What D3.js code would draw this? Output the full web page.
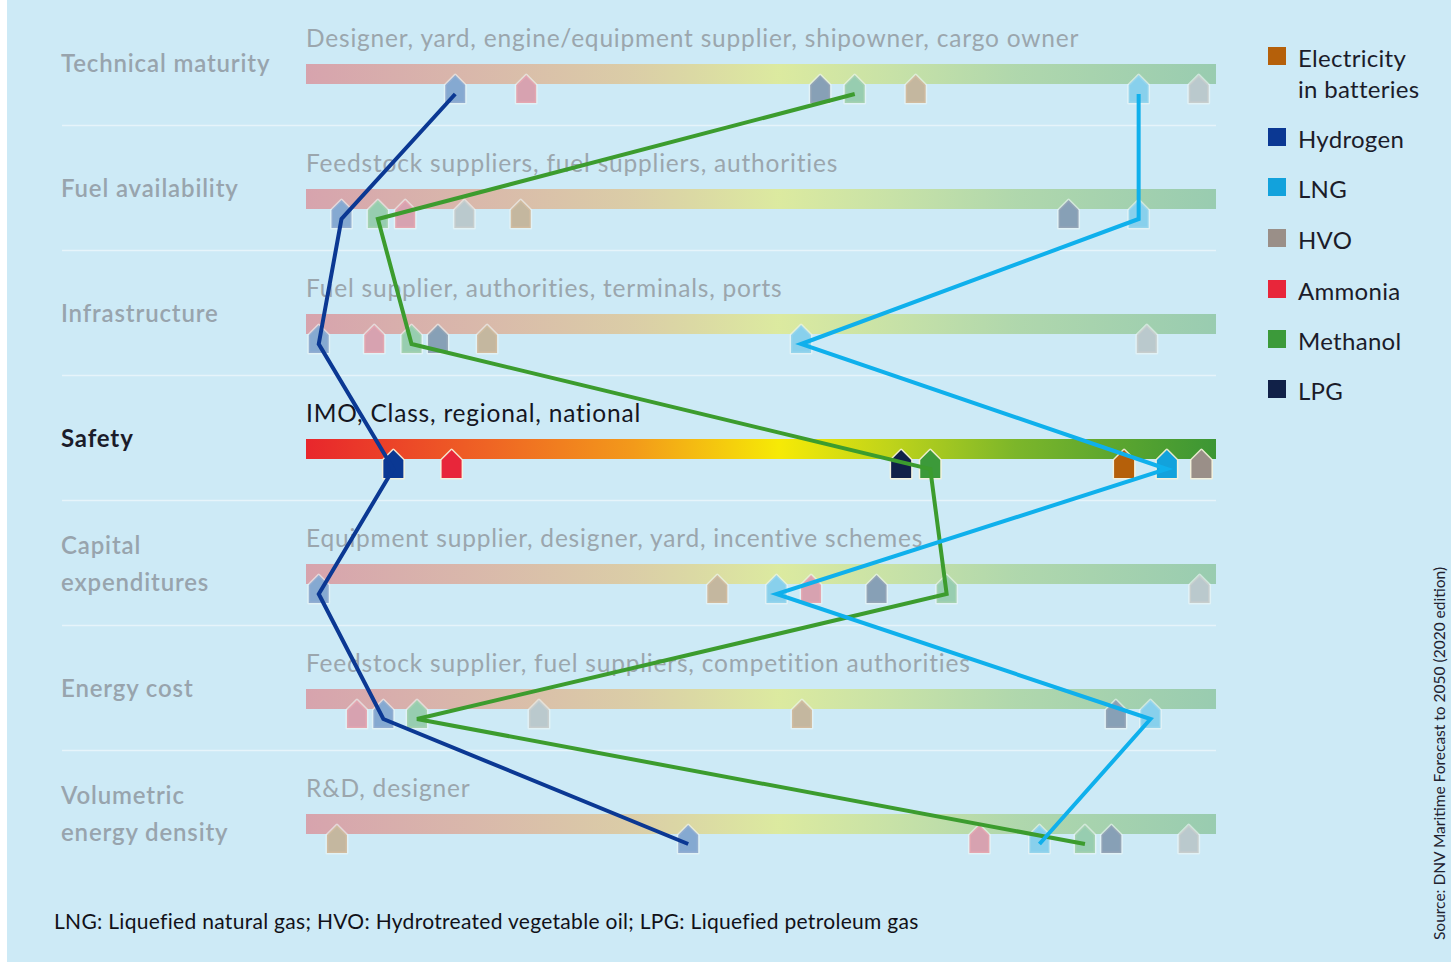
<!DOCTYPE html>
<html>
<head>
<meta charset="utf-8">
<script src="https://cdn.jsdelivr.net/npm/d3@7"></script>
<style>
  html, body { margin: 0; padding: 0; background: #ffffff; }
  svg { display: block; font-family: Lato, "Noto Sans", sans-serif; }
</style>
</head>
<body>
<svg id="chart" width="1451" height="964"></svg>
<script>
// Barrier criteria (rows) and the stakeholders named above each bar
const criteria = [
  ["Technical maturity"],
  ["Fuel availability"],
  ["Infrastructure"],
  ["Safety"],
  ["Capital", "expenditures"],
  ["Energy cost"],
  ["Volumetric", "energy density"]
];
const stakeholders = [
  "Designer, yard, engine/equipment supplier, shipowner, cargo owner",
  "Feedstock suppliers, fuel suppliers, authorities",
  "Fuel supplier, authorities, terminals, ports",
  "IMO, Class, regional, national",
  "Equipment supplier, designer, yard, incentive schemes",
  "Feedstock supplier, fuel suppliers, competition authorities",
  "R&D, designer"
];
const focusRow = 3; // Safety is shown in full colour

// Fuels and legend colours
const fuels = ["Electricity in batteries", "Hydrogen", "LNG", "HVO", "Ammonia", "Methanol", "LPG"];
const fuelLegendLines = [["Electricity", "in batteries"], ["Hydrogen"], ["LNG"], ["HVO"], ["Ammonia"], ["Methanol"], ["LPG"]];
const fuelColors = ["#b5600a", "#0b3893", "#12a2dc", "#9a8f88", "#e8263a", "#3c9a3a", "#112148"];

// Position of each fuel on every criterion bar (0 = worst, 100 = best), rows top to bottom
const electricityPos = [67.0, 23.6, 19.9, 89.9, 45.2, 54.5, 3.4];
const hydrogenPos    = [16.4, 3.9, 1.4, 9.6, 1.4, 8.5, 42.0];
const lngPos         = [91.5, 91.5, 54.4, 94.6, 51.7, 92.8, 80.6];
const hvoPos         = [98.1, 17.4, 92.4, 98.4, 98.2, 25.6, 97.0];
const ammoniaPos     = [24.2, 10.9, 7.5, 16.0, 55.5, 5.6, 74.0];
const methanolPos    = [60.3, 7.9, 11.6, 68.6, 70.4, 12.2, 85.6];
const lpgPos         = [56.5, 83.8, 14.5, 65.4, 62.7, 89.0, 88.5];
const fuelPositions = [electricityPos, hydrogenPos, lngPos, hvoPos, ammoniaPos, methanolPos, lpgPos];

// Fuels whose path through the criteria is traced with a line
const tracedFuels = ["Hydrogen", "Methanol", "LNG"];

const footnote = "LNG: Liquefied natural gas; HVO: Hydrotreated vegetable oil; LPG: Liquefied petroleum gas";
const sourceNote = "Source: DNV Maritime Forecast to 2050 (2020 edition)";

// Gradient from red (barrier) to green (ready)
const gradientStops = [
  [0, "#e8262c"], [0.2, "#ef6424"], [0.36, "#f39a1a"], [0.52, "#f6ea06"],
  [0.64, "#c0d41a"], [0.78, "#7cb62a"], [1, "#3c9634"]
];

const svg = d3.select("#chart");
const W = 1451, H = 964;
const bg = "#cdeaf6";

svg.append("rect").attr("x", 7).attr("y", 0).attr("width", W - 7).attr("height", 962).attr("fill", bg);

const defs = svg.append("defs");
const grad = defs.append("linearGradient").attr("id", "barGrad")
  .attr("x1", "0%").attr("x2", "100%").attr("y1", "0%").attr("y2", "0%");
grad.selectAll("stop").data(gradientStops).join("stop")
  .attr("offset", d => d[0]).attr("stop-color", d => d[1]);

const x = d3.scaleLinear().domain([0, 100]).range([306, 1216]);
const rowTop = d3.scaleLinear().domain([0, criteria.length - 1]).range([64, 814]);
const barH = 20;
const fuelColor = d3.scaleOrdinal().domain(fuels).range(fuelColors);
const fadeOpacity = 0.37;

// Separators between rows
svg.append("g").selectAll("line").data(d3.range(criteria.length - 1)).join("line")
  .attr("x1", 62).attr("x2", x(100))
  .attr("y1", i => rowTop(i) + 61.5).attr("y2", i => rowTop(i) + 61.5)
  .attr("stroke", "#e6f4fa").attr("stroke-width", 1.5);

// Criterion bars
svg.append("g").selectAll("rect").data(criteria).join("rect")
  .attr("x", x(0)).attr("width", x(100) - x(0))
  .attr("y", (d, i) => rowTop(i)).attr("height", barH)
  .attr("fill", "url(#barGrad)")
  .attr("opacity", (d, i) => i === focusRow ? 1 : 0.36);

// Row titles
const titles = svg.append("g");
criteria.forEach((lines, i) => {
  const focus = i === focusRow;
  const t = titles.append("text")
    .attr("x", 61)
    .attr("font-size", 24)
    .attr("font-weight", focus ? 700 : 600)
    .attr("fill", focus ? "#1b1c2a" : "#98a4ad")
    .attr("letter-spacing", 0.85);
  const base = rowTop(i) + 8 - (lines.length - 1) * 18.5;
  lines.forEach((ln, k) => {
    t.append("tspan").attr("x", 61).attr("y", base + k * 37).text(ln);
  });
});

// Stakeholder captions above bars
svg.append("g").selectAll("text").data(stakeholders).join("text")
  .attr("x", x(0)).attr("y", (d, i) => rowTop(i) - 17)
  .attr("font-size", 24.5)
  .attr("fill", (d, i) => i === focusRow ? "#15161f" : "#9ba6ad")
  .attr("letter-spacing", 0.8)
  .text(d => d);

// House-shaped fuel markers
const markerPath = (cx, top) => {
  const hw = 10;
  return `M${cx},${top + 11} L${cx + hw},${top + 21} L${cx + hw},${top + 39} L${cx - hw},${top + 39} L${cx - hw},${top + 21} Z`;
};
const markerData = [];
fuels.forEach((f, fi) => {
  fuelPositions[fi].forEach((v, ri) => markerData.push({ fuel: f, row: ri, value: v }));
});
const markers = svg.append("g");
markers.selectAll("path.halo").data(markerData).join("path")
  .attr("class", "halo")
  .attr("d", d => markerPath(x(d.value), rowTop(d.row)))
  .attr("fill", bg)
  .attr("stroke", d => d.row === focusRow ? "#f6f2dc" : "#eef6f6")
  .attr("stroke-width", 3)
  .attr("stroke-linejoin", "round")
  .attr("stroke-opacity", d => d.row === focusRow ? 0.9 : 0.6);
markers.selectAll("path.mark").data(markerData).join("path")
  .attr("class", "mark")
  .attr("d", d => markerPath(x(d.value), rowTop(d.row)))
  .attr("fill", d => fuelColor(d.fuel))
  .attr("fill-opacity", d => d.row === focusRow ? 1 : fadeOpacity);

// Lines tracing selected fuels down the criteria
const lineGen = d3.line().x(d => x(d.value)).y(d => rowTop(d.row) + 30);
svg.append("g").selectAll("path").data(tracedFuels).join("path")
  .attr("d", f => lineGen(fuelPositions[fuels.indexOf(f)].map((v, r) => ({ value: v, row: r }))))
  .attr("fill", "none")
  .attr("stroke", f => f === "LNG" ? "#0fb0ec" : f === "Methanol" ? "#3c9c2e" : fuelColor(f))
  .attr("stroke-width", 4)
  .attr("stroke-linejoin", "miter");

// Legend
const legend = svg.append("g");
const legendY = [59, 140, 190, 241, 292, 342, 392];
fuels.forEach((f, i) => {
  const y = legendY[i];
  legend.append("rect").attr("x", 1268).attr("y", y - 12).attr("width", 18).attr("height", 18)
    .attr("fill", fuelColor(f));
  const t = legend.append("text").attr("x", 1298).attr("font-size", 24)
    .attr("fill", "#1b1c2a").attr("letter-spacing", 0.3);
  fuelLegendLines[i].forEach((ln, k) => {
    t.append("tspan").attr("x", 1298).attr("y", y + 8 + k * 31).text(ln);
  });
});

// Footnote and source
svg.append("text").attr("x", 54).attr("y", 929).attr("font-size", 21)
  .attr("letter-spacing", 0.3)
  .attr("fill", "#111118").text(footnote);
svg.append("text").attr("transform", "translate(1445,940) rotate(-90)")
  .attr("font-size", 15.5).attr("fill", "#222230").text(sourceNote);
</script>
</body>
</html>
